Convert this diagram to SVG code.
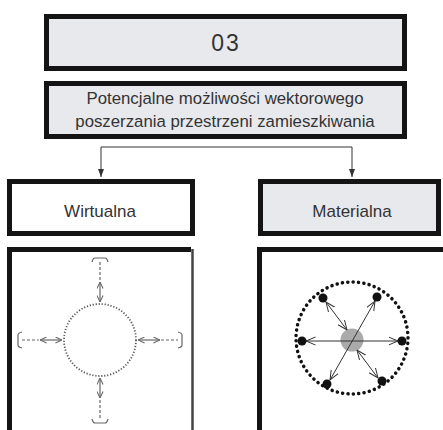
<svg xmlns="http://www.w3.org/2000/svg" width="443" height="430" viewBox="0 0 443 430">
<style>
.box{stroke:#141414;stroke-width:5}
.gray{fill:#e7e9ed}
.white{fill:#ffffff}
.t{font-family:"Liberation Sans",Arial,sans-serif;fill:#333;text-anchor:middle}
.conn{fill:none;stroke:#333;stroke-width:1}
.g{fill:none;stroke:#666;stroke-width:1.2}
.gd{fill:none;stroke:#666;stroke-width:1.2;stroke-dasharray:3 2}
.k{fill:none;stroke:#333;stroke-width:1}
</style>
<defs>
<marker id="ah" viewBox="0 0 8 8" refX="8" refY="4" markerWidth="8" markerHeight="8" markerUnits="userSpaceOnUse" orient="auto-start-reverse">
<path d="M0,1 L8,4 L0,7 Z" fill="#333"/>
</marker>
<marker id="ag" viewBox="0 0 8 8" refX="7.5" refY="4" markerWidth="7" markerHeight="7" markerUnits="userSpaceOnUse" orient="auto-start-reverse">
<path d="M0,0.5 L7.5,4 L0,7.5" fill="none" stroke="#666" stroke-width="1.2"/>
</marker>
<marker id="ak" viewBox="0 0 10 10" refX="9.5" refY="5" markerWidth="10" markerHeight="10" markerUnits="userSpaceOnUse" orient="auto-start-reverse">
<path d="M0,1 L9.5,5 L0,9" fill="none" stroke="#333" stroke-width="1"/>
</marker>
</defs>
<rect width="443" height="430" fill="#ffffff"/>

<g id="node-03">
<rect class="box gray" x="46.5" y="16.5" width="358" height="52"/>
<text class="t" x="226" y="51" font-size="23" letter-spacing="2">03</text>
</g>

<g id="node-potencjalne">
<rect class="box gray" x="46.5" y="83.5" width="358" height="53"/>
<text class="t" x="225" y="104" font-size="16.8">Potencjalne możliwości wektorowego</text>
<text class="t" x="225" y="127" font-size="16.8">poszerzania przestrzeni zamieszkiwania</text>
</g>

<g id="connectors">
<path class="conn" d="M101,177 V147 H352 V177" marker-start="url(#ah)" marker-end="url(#ah)"/>
</g>

<g id="node-wirtualna">
<rect class="box white" x="9.5" y="181.5" width="183" height="52"/>
<text class="t" x="100" y="217" font-size="17">Wirtualna</text>
</g>

<g id="node-materialna">
<rect class="box gray" x="260.5" y="181.5" width="178" height="52"/>
<text class="t" x="352" y="217" font-size="17">Materialna</text>
</g>

<g id="panel-wirtualna">
<rect x="9.5" y="249.5" width="182" height="190" fill="#fff"/>
<path d="M9.5,432 V249.5 H191" fill="none" stroke="#141414" stroke-width="5"/>
<path d="M192.5,249 V432" fill="none" stroke="#444" stroke-width="2.5"/>
<circle cx="100" cy="340" r="36" fill="none" stroke="#555" stroke-width="1.8" stroke-dasharray="1.2 1.8"/>
<!-- top -->
<path class="g" d="M100,282 V302" marker-start="url(#ag)" marker-end="url(#ag)"/>
<path class="gd" d="M100,262 V281"/>
<path class="g" d="M92,262 Q93,258 95,258 H105 Q107,258 108,262"/>
<!-- bottom -->
<path class="g" d="M100,378 V398" marker-start="url(#ag)" marker-end="url(#ag)"/>
<path class="gd" d="M100,400 V419"/>
<path class="g" d="M92,419 Q93,423 95,423 H105 Q107,423 108,419"/>
<!-- left -->
<path class="g" d="M40,340 H62" marker-start="url(#ag)" marker-end="url(#ag)"/>
<path class="gd" d="M22,340 H39"/>
<path class="g" d="M22,332 Q18,333 18,335 V345 Q18,347 22,348"/>
<!-- right -->
<path class="g" d="M138,340 H160" marker-start="url(#ag)" marker-end="url(#ag)"/>
<path class="gd" d="M161,340 H178"/>
<path class="g" d="M178,332 Q182,333 182,335 V345 Q182,347 178,348"/>
</g>

<g id="panel-materialna">
<path d="M259.5,432 V249.5 H443" fill="none" stroke="#141414" stroke-width="5"/>
<circle cx="352" cy="338" r="56" fill="none" stroke="#111" stroke-width="3.5" stroke-dasharray="0.1 5.3" stroke-linecap="round"/>
<circle cx="352" cy="340" r="11.5" fill="#aaaaaa"/>
<path class="k" d="M306,341 H398" marker-start="url(#ak)" marker-end="url(#ak)"/>
<path class="k" d="M375,301 L330,380" marker-start="url(#ak)" marker-end="url(#ak)"/>
<path class="k" d="M326,302 L347,330" marker-start="url(#ak)" marker-end="url(#ak)"/>
<path class="k" d="M357,350 L378,378" marker-start="url(#ak)" marker-end="url(#ak)"/>
<g fill="#111">
<circle cx="323" cy="298" r="4.5"/>
<circle cx="377" cy="297" r="4.5"/>
<circle cx="302" cy="341" r="4.5"/>
<circle cx="402" cy="341" r="4.5"/>
<circle cx="327" cy="384" r="4.5"/>
<circle cx="382" cy="381" r="4.5"/>
</g>
</g>
</svg>
